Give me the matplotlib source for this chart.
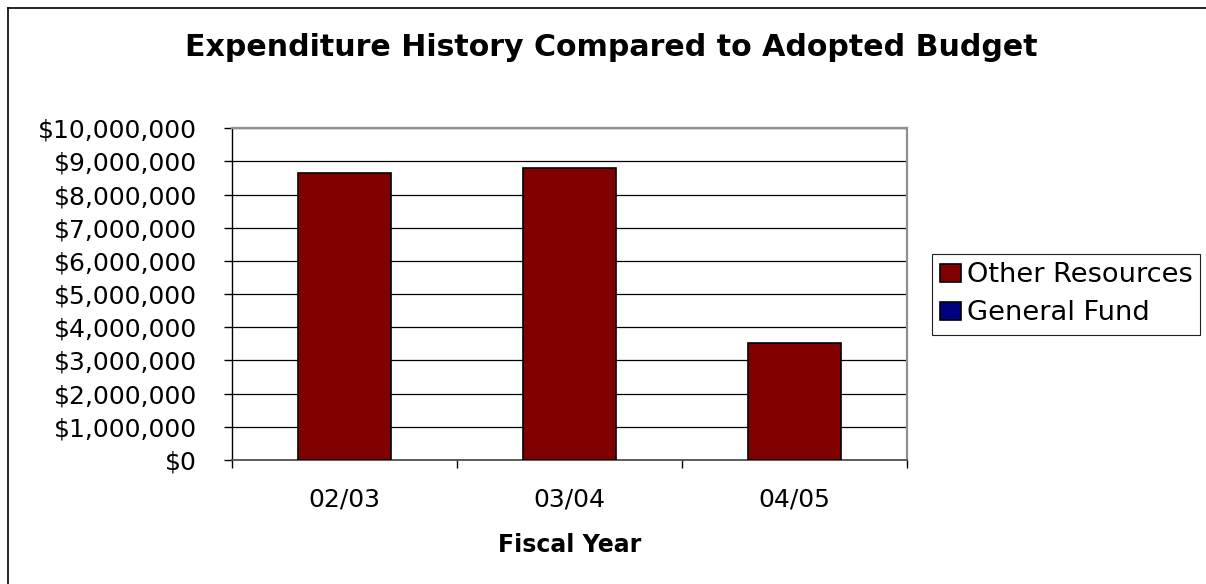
import numpy as np
import matplotlib
matplotlib.use("Agg")
import matplotlib.pyplot as plt
from matplotlib.lines import Line2D
from matplotlib.ticker import FuncFormatter, FixedLocator

years = ["02/03", "03/04", "04/05"]
general_fund = [0, 0, 0]
other_resources = [8660000, 8810000, 3530000]
yticks = list(range(0, 10000001, 1000000))

W, H = 1206, 584
fig = plt.figure(figsize=(W / 100, H / 100), dpi=100)
fig.patch.set_facecolor("white")

# outer chart frame (left and top edges visible)
fig.add_artist(Line2D([7.5 / W, 7.5 / W], [0, 1 - 7.5 / H], color="black", lw=1.2))
fig.add_artist(Line2D([7.5 / W, 1], [1 - 7.5 / H, 1 - 7.5 / H], color="black", lw=1.2))

ax = fig.add_axes([232 / W, (H - 460) / H, (907 - 232) / W, (460 - 128.3) / H])

x = np.arange(len(years))
ax.bar(x, general_fund, width=0.41, color="#000080", edgecolor="black", lw=1.2,
       label="General Fund", zorder=3)
ax.bar(x, other_resources, width=0.41, bottom=general_fund, color="#800000",
       edgecolor="black", lw=1.2, label="Other Resources", zorder=3)

ax.set_xlim(-0.5, 2.5)
ax.set_ylim(0, 10000000)
ax.set_yticks(yticks)
ax.yaxis.set_major_formatter(FuncFormatter(lambda v, p: "${:,.0f}".format(v)))
ax.grid(axis="y", color="black", lw=0.9, zorder=1)

ax.set_xticks(x)
ax.set_xticklabels(years)
ax.xaxis.set_minor_locator(FixedLocator([-0.5, 0.5, 1.5, 2.5]))
ax.tick_params(axis="x", which="major", length=0, pad=20, labelsize=18)
ax.tick_params(axis="x", which="minor", length=5.8, width=1, color="black", direction="out")
ax.tick_params(axis="y", length=5.8, width=1, color="black", direction="out", pad=19.5,
               labelsize=18)

ax.spines["left"].set_color("black")
ax.spines["left"].set_linewidth(1)
ax.spines["bottom"].set_color("#505050")
ax.spines["bottom"].set_linewidth(1.3)
for side in ["top", "right"]:
    ax.spines[side].set_color("#909090")
    ax.spines[side].set_linewidth(1.6)

fig.text(611 / W, (H - 56) / H, "Expenditure History Compared to Adopted Budget",
         ha="center", va="baseline", fontsize=21.6, fontweight="bold")
fig.text(569.5 / W, (H - 551.7) / H, "Fiscal Year", ha="center", va="baseline",
         fontsize=17, fontweight="bold")

handles, labels = ax.get_legend_handles_labels()
leg = fig.legend(handles[::-1], labels[::-1], loc="upper left",
                 bbox_to_anchor=(932 / W, (H - 254) / H), borderaxespad=0,
                 fontsize=19.6, handlelength=0.75, handleheight=0.65,
                 handletextpad=0.22, labelspacing=0.45, borderpad=0.3,
                 fancybox=False, framealpha=1)
leg.get_frame().set_edgecolor("#202020")
leg.get_frame().set_linewidth(0.8)

fig.savefig("out.png", dpi=100, facecolor="white")
